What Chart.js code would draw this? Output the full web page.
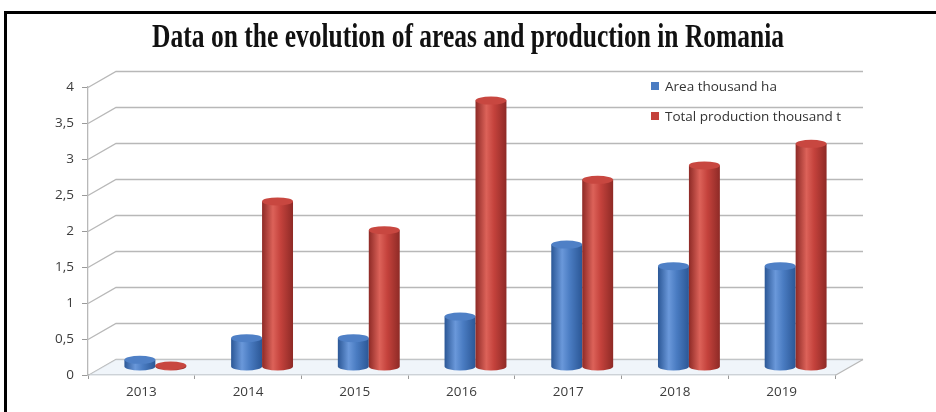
<!DOCTYPE html>
<html>
<head>
<meta charset="utf-8">
<script src="https://cdn.jsdelivr.net/npm/chart.js@4.4.1/dist/chart.umd.min.js"></script>
<style>
  html, body { margin: 0; padding: 0; background: #ffffff; width: 936px; height: 412px; overflow: hidden; }
  #wrap { position: relative; width: 936px; height: 412px; overflow: hidden; }
  #frame { position: absolute; left: 4px; top: 11px; width: 932px; height: 401px; border-top: 3px solid #000; border-left: 3px solid #000; box-sizing: border-box; }
  #title { position: absolute; top: 17px; left: 0; width: 936px; text-align: center; white-space: nowrap; }
  #titleText { display: inline-block; font-family: "Liberation Serif", "DejaVu Serif", serif; font-weight: bold; font-size: 34px; color: #111; transform-origin: 50% 50%; }
  #chart { position: absolute; left: 0; top: 0; }
  #legend { position: absolute; left: 651px; top: 76px; font-family: "Open Sans", "Liberation Sans", sans-serif; font-size: 13.5px; color: #333; }
  .li { display: flex; align-items: center; height: 19px; margin-bottom: 11px; white-space: nowrap; }
  .sw { width: 8px; height: 8px; margin-right: 6px; }
</style>
</head>
<body>
<div id="wrap">
  <canvas id="chart" width="936" height="412"></canvas>
  <div id="frame"></div>
  <div id="title"><span id="titleText">Data on the evolution of areas and production in Romania</span></div>
  <div id="legend"></div>
</div>
<script>
const categories = ["2013", "2014", "2015", "2016", "2017", "2018", "2019"];
const areaValues = [0.1, 0.4, 0.4, 0.7, 1.7, 1.4, 1.4];
const productionValues = [0.02, 2.3, 1.9, 3.7, 2.6, 2.8, 3.1];
const seriesNames = ["Area thousand ha", "Total production thousand t"];
const yTicks = [0, 0.5, 1, 1.5, 2, 2.5, 3, 3.5, 4];

const BLUE = "#4a7cc2";
const RED = "#c4423c";
const DEPTH_X = 28, DEPTH_Y = -16;

// fit the condensed title
(function () {
  const t = document.getElementById("titleText");
  const w = t.getBoundingClientRect().width;
  t.style.transform = "scaleX(" + (632 / w) + ")";
})();

// html legend
(function () {
  const lg = document.getElementById("legend");
  [[BLUE, seriesNames[0]], [RED, seriesNames[1]]].forEach(([c, n]) => {
    const d = document.createElement("div"); d.className = "li";
    const s = document.createElement("span"); s.className = "sw"; s.style.background = c;
    const tx = document.createElement("span"); tx.textContent = n;
    d.appendChild(s); d.appendChild(tx); lg.appendChild(d);
  });
})();

const wallPlugin = {
  id: "wall3d",
  beforeDatasetsDraw(chart) {
    const { ctx, chartArea: a, scales: { y } } = chart;
    ctx.save();
    ctx.strokeStyle = "#b8b8b8";
    ctx.lineWidth = 1.3;
    yTicks.forEach(v => {
      const py = Math.round(y.getPixelForValue(v)) + 0.5;
      ctx.beginPath();
      ctx.moveTo(a.left, py);
      ctx.lineTo(a.left + DEPTH_X, py + DEPTH_Y);
      ctx.lineTo(a.right + DEPTH_X, py + DEPTH_Y);
      ctx.stroke();
    });
    // floor
    const by = Math.round(y.getPixelForValue(0)) + 0.5;
    ctx.fillStyle = "rgba(225,235,245,0.5)";
    ctx.beginPath();
    ctx.moveTo(a.left, by);
    ctx.lineTo(a.left + DEPTH_X, by + DEPTH_Y);
    ctx.lineTo(a.right + DEPTH_X, by + DEPTH_Y);
    ctx.lineTo(a.right, by);
    ctx.closePath();
    ctx.fill();
    ctx.beginPath();
    ctx.moveTo(a.right, by);
    ctx.lineTo(a.right + DEPTH_X, by + DEPTH_Y);
    ctx.stroke();
    ctx.restore();
    // shift bars to the middle depth
    ctx.save();
    ctx.translate(DEPTH_X / 2, DEPTH_Y / 2);
  },
  afterDatasetsDraw(chart) {
    const { ctx } = chart;
    chart.data.datasets.forEach((ds, di) => {
      const meta = chart.getDatasetMeta(di);
      const dark = di === 0 ? "#2b5796" : "#8e2a26";
      const light = di === 0 ? "#6a98da" : "#dc6259";
      const topC = di === 0 ? "#4f80c6" : "#c84740";
      meta.data.forEach(el => {
        const { x, y, base, width } = el.getProps(["x", "y", "base", "width"], true);
        const l = x - width / 2, r = x + width / 2;
        const ry = Math.min(4, width * 0.13);
        // cylinder shading
        const g = ctx.createLinearGradient(l, 0, r, 0);
        g.addColorStop(0, dark);
        g.addColorStop(0.35, light);
        g.addColorStop(0.6, di === 0 ? BLUE : RED);
        g.addColorStop(1, dark);
        ctx.fillStyle = g;
        ctx.beginPath();
        ctx.moveTo(l, y);
        ctx.lineTo(l, base);
        ctx.ellipse(x, base, width / 2, ry, 0, Math.PI, 0, true);
        ctx.lineTo(r, y);
        ctx.closePath();
        ctx.fill();
        // top ellipse
        ctx.fillStyle = topC;
        ctx.beginPath();
        ctx.ellipse(x, y, width / 2, ry, 0, 0, Math.PI * 2);
        ctx.fill();
      });
    });
    ctx.restore();
  }
};

new Chart(document.getElementById("chart"), {
  type: "bar",
  data: {
    labels: categories,
    datasets: [
      { label: seriesNames[0], data: areaValues, backgroundColor: "rgba(0,0,0,0)", borderWidth: 0 },
      { label: seriesNames[1], data: productionValues, backgroundColor: "rgba(0,0,0,0)", borderWidth: 0 }
    ]
  },
  options: {
    responsive: false,
    animation: false,
    layout: { padding: { left: 0, right: 101, top: 87, bottom: 0 } },
    plugins: { legend: { display: false }, tooltip: { enabled: false }, title: { display: false } },
    datasets: { bar: { categoryPercentage: 0.58, barPercentage: 1 } },
    scales: {
      x: {
        grid: { display: true, drawOnChartArea: false, drawTicks: true, tickLength: 4, color: "#9a9a9a", offset: true },
        border: { display: true, color: "#b8b8b8", width: 1.3 },
        ticks: { color: "#3c3c3c", font: { family: "Open Sans", size: 13.5 }, padding: 5, maxRotation: 0 },
        afterFit(s) { s.height = 37; }
      },
      y: {
        min: 0, max: 4,
        afterBuildTicks(s) { s.ticks = yTicks.map(v => ({ value: v })); },
        grid: { display: true, drawOnChartArea: false, drawTicks: true, tickLength: 6, color: "#9a9a9a" },
        border: { display: true, color: "#b8b8b8", width: 1.3 },
        ticks: {
          color: "#3c3c3c", font: { family: "Open Sans", size: 13.5 }, padding: 8,
          callback: v => String(v).replace(".", ",")
        },
        afterFit(s) { s.width = 88; }
      }
    }
  },
  plugins: [wallPlugin]
});
</script>
</body>
</html>
